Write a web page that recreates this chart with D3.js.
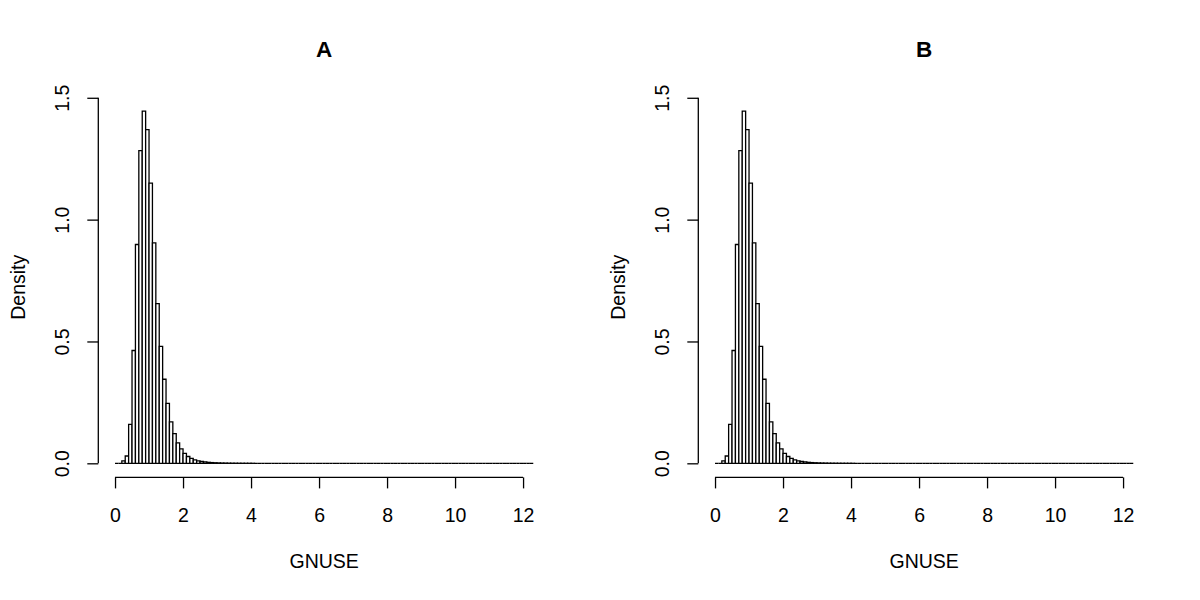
<!DOCTYPE html>
<html>
<head>
<meta charset="utf-8">
<script src="https://cdn.jsdelivr.net/npm/d3@7"></script>
<style>
  html, body { margin: 0; padding: 0; background: #fff; }
  svg { display: block; }
  text { font-family: "Liberation Sans", Arial, Helvetica, sans-serif; fill: #000; }
</style>
</head>
<body>
<svg id="chart" width="1200" height="600"></svg>
<script>
// ---- data ----
const panelTitles = ["A", "B"];
const xLabel = "GNUSE";
const yLabel = "Density";
const binStart = 0;
const binWidth = 0.1;
// density per 0.1-wide bin, starting at 0 (panel A)
const densityA = [
  0, 0, 0.01, 0.03, 0.16, 0.463, 0.898, 1.283, 1.445, 1.369,
  1.15, 0.905, 0.655, 0.48, 0.345, 0.246, 0.17, 0.122, 0.084, 0.059,
  0.041, 0.028, 0.02, 0.014, 0.01, 0.0075, 0.0055, 0.004, 0.003, 0.0022,
  0.0016, 0.0012, 0.0009, 0.0007, 0.0005, 0.0004, 0.0003, 0.0002, 0.0002, 0.0001,
  0.0001, 0, 0, 0, 0, 0, 0, 0, 0, 0,
  0, 0, 0, 0, 0, 0, 0, 0, 0, 0,
  0, 0, 0, 0, 0, 0, 0, 0, 0, 0,
  0, 0, 0, 0, 0, 0, 0, 0, 0, 0,
  0, 0, 0, 0, 0, 0, 0, 0, 0, 0,
  0, 0, 0, 0, 0, 0, 0, 0, 0, 0,
  0, 0, 0, 0, 0, 0, 0, 0, 0, 0,
  0, 0, 0, 0, 0, 0, 0, 0, 0, 0,
  0, 0, 0
];
// panel B
const densityB = [
  0, 0, 0.01, 0.03, 0.16, 0.463, 0.898, 1.283, 1.445, 1.369,
  1.15, 0.905, 0.655, 0.48, 0.345, 0.246, 0.17, 0.122, 0.084, 0.059,
  0.041, 0.028, 0.02, 0.014, 0.01, 0.0075, 0.0055, 0.004, 0.003, 0.0022,
  0.0016, 0.0012, 0.0009, 0.0007, 0.0005, 0.0004, 0.0003, 0.0002, 0.0002, 0.0001,
  0.0001, 0, 0, 0, 0, 0, 0, 0, 0, 0,
  0, 0, 0, 0, 0, 0, 0, 0, 0, 0,
  0, 0, 0, 0, 0, 0, 0, 0, 0, 0,
  0, 0, 0, 0, 0, 0, 0, 0, 0, 0,
  0, 0, 0, 0, 0, 0, 0, 0, 0, 0,
  0, 0, 0, 0, 0, 0, 0, 0, 0, 0,
  0, 0, 0, 0, 0, 0, 0, 0, 0, 0,
  0, 0, 0, 0, 0, 0, 0, 0, 0, 0,
  0, 0, 0
];
const xTicks = [0, 2, 4, 6, 8, 10, 12];
const yTicks = [0, 0.5, 1.0, 1.5];
const yTickLabels = ["0.0", "0.5", "1.0", "1.5"];

// ---- drawing ----
const svg = d3.select("#chart");
const panels = [
  { title: panelTitles[0], data: densityA, offset: 0 },
  { title: panelTitles[1], data: densityB, offset: 600 }
];

const plotLeft = 98.3, plotRight = 550, plotTop = 97.1, plotBottom = 477.4;
const fs = 19.5;

panels.forEach(p => {
  const g = svg.append("g").attr("transform", `translate(${p.offset},0)`);
  const nBins = p.data.length;
  const xMax = binStart + nBins * binWidth;
  const ext = (xMax - binStart) * 0.04;
  const x = d3.scaleLinear().domain([binStart - ext, xMax + ext]).range([plotLeft, plotRight]);
  const yMaxData = d3.max(p.data);
  const yext = yMaxData * 0.04;
  const y = d3.scaleLinear().domain([-yext, yMaxData + yext]).range([plotBottom, plotTop]);

  // bars (drawn as closed paths so zero-height bins appear as a line)
  g.append("g").selectAll("path")
    .data(p.data)
    .join("path")
    .attr("d", (d, i) => {
      const x0 = x(binStart + i * binWidth), x1 = x(binStart + (i + 1) * binWidth);
      const y0 = y(0), y1 = y(d);
      return `M${x0},${y0}V${y1}H${x1}V${y0}Z`;
    })
    .attr("fill", "#fff")
    .attr("stroke", "#000")
    .attr("stroke-width", 1.3);

  // x axis
  const xAxis = d3.axisBottom(x).tickValues(xTicks).tickSize(11).tickPadding(20)
    .tickFormat(d3.format("d"));
  const xg = g.append("g").attr("transform", `translate(0,${plotBottom})`).call(xAxis);
  xg.select(".domain").remove();
  xg.append("line")
    .attr("x1", x(xTicks[0])).attr("x2", x(xTicks[xTicks.length - 1]))
    .attr("y1", 0).attr("y2", 0)
    .attr("stroke", "#000").attr("stroke-width", 1.3);
  xg.selectAll(".tick line").attr("stroke-width", 1.3);
  xg.selectAll(".tick text")
    .attr("font-size", fs).attr("font-family", "Liberation Sans, Arial, sans-serif")
    .attr("dy", null).attr("y", 44.3).attr("dominant-baseline", "alphabetic");

  // y axis
  const yAxis = d3.axisLeft(y).tickValues(yTicks).tickSize(11)
    .tickFormat((d, i) => yTickLabels[i]);
  const yg = g.append("g").attr("transform", `translate(${plotLeft},0)`).call(yAxis);
  yg.select(".domain").remove();
  yg.append("line")
    .attr("x1", 0).attr("x2", 0)
    .attr("y1", y(yTicks[0])).attr("y2", y(yTicks[yTicks.length - 1]))
    .attr("stroke", "#000").attr("stroke-width", 1.3);
  yg.selectAll(".tick line").attr("stroke-width", 1.3);
  yg.selectAll(".tick text")
    .attr("font-size", fs).attr("font-family", "Liberation Sans, Arial, sans-serif")
    .attr("x", null).attr("dy", null)
    .attr("text-anchor", "middle")
    .attr("transform", "translate(-29.5,0) rotate(-90)");

  // titles
  const cx = (plotLeft + plotRight) / 2;
  g.append("text").attr("x", cx).attr("y", 57)
    .attr("text-anchor", "middle").attr("font-size", 22.5).attr("font-weight", "bold")
    .text(p.title);
  g.append("text").attr("x", cx).attr("y", 568)
    .attr("text-anchor", "middle").attr("font-size", fs)
    .text(xLabel);
  g.append("text")
    .attr("transform", `translate(25,${(plotTop + plotBottom) / 2}) rotate(-90)`)
    .attr("text-anchor", "middle").attr("font-size", fs)
    .text(yLabel);
});
</script>
</body>
</html>
